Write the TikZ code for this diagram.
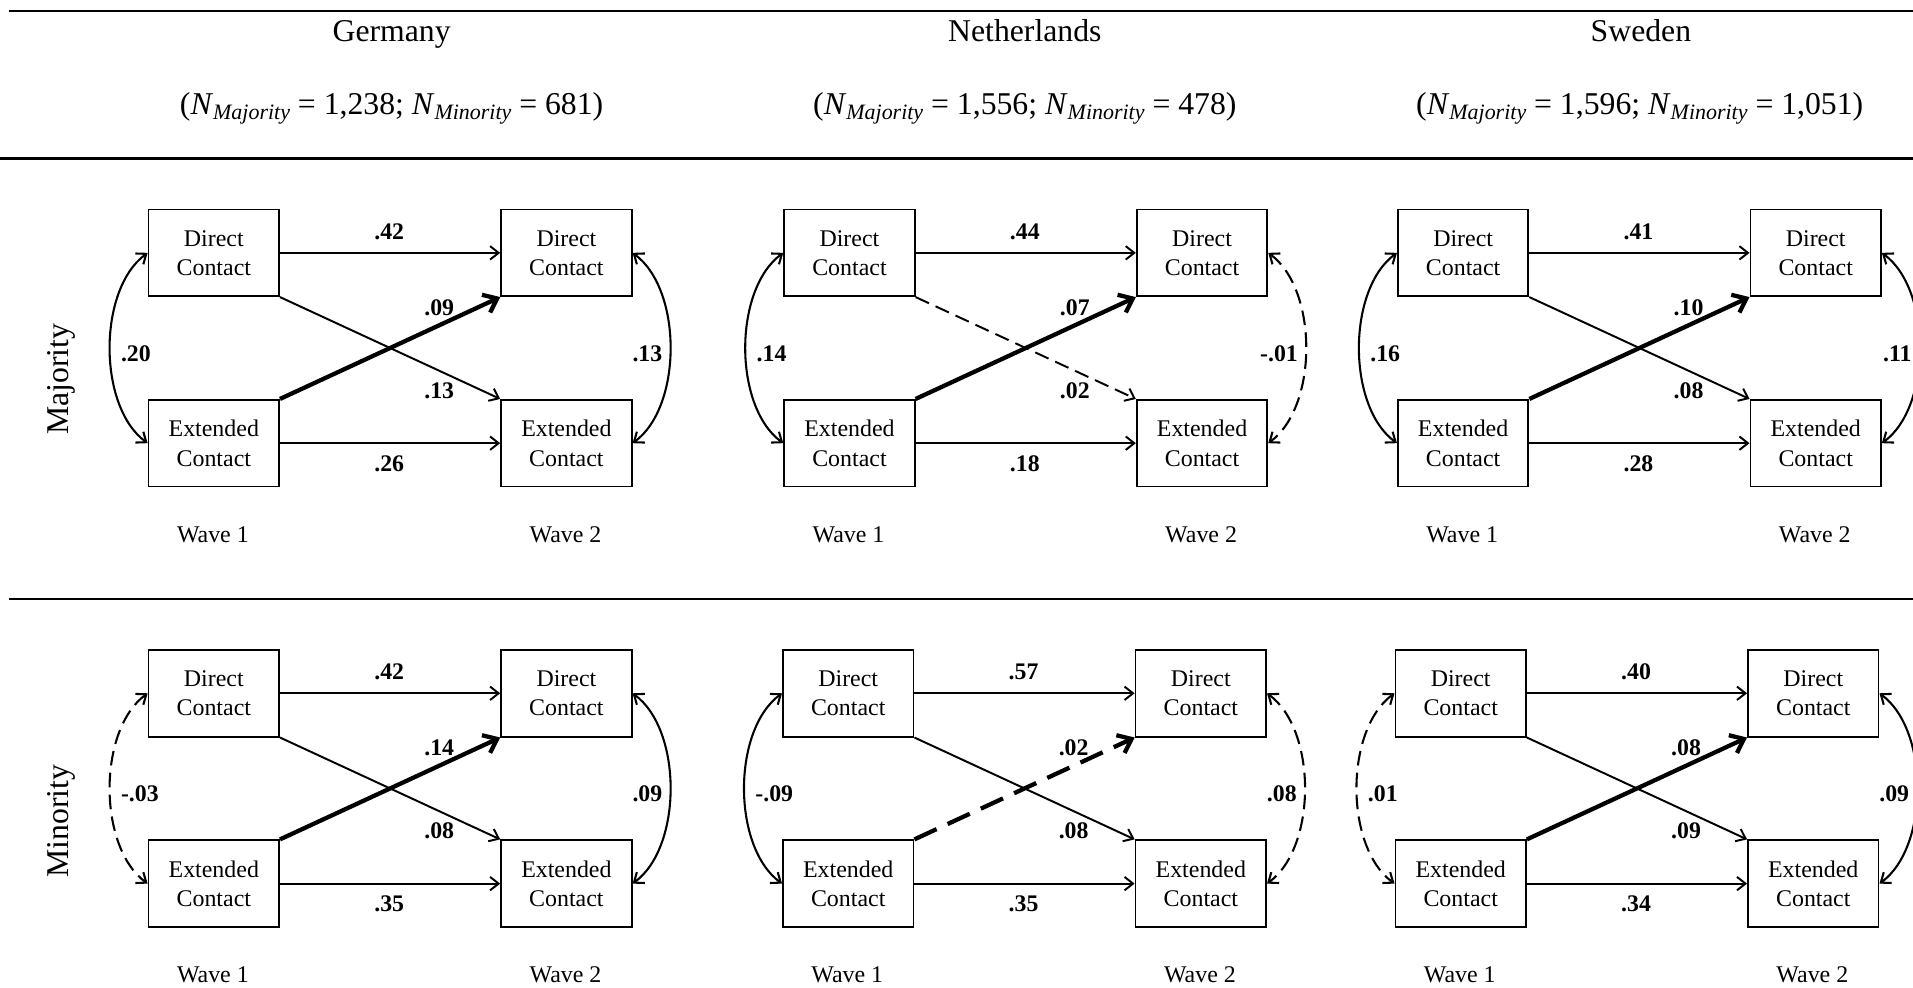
\documentclass[tikz,border=0pt]{standalone}
\usepackage{fontspec}
\setmainfont{Liberation Serif}
\usetikzlibrary{arrows.meta}
\newcommand\nsub[1]{\raisebox{-0.35ex}{\fontsize{18}{18}\selectfont\itshape #1}}
\tikzset{
  cbox/.style={draw, line width=1.5pt, minimum width=107pt, minimum height=71pt, inner sep=0pt, align=center, font=\fontsize{19.6}{24}\selectfont, anchor=north west},
  lab/.style={font=\fontsize{19.5}{22}\selectfont\bfseries, inner sep=0pt},
  wavelab/.style={font=\fontsize{19.6}{24}\selectfont, inner sep=0pt},
  ttl/.style={font=\fontsize{26}{30}\selectfont, inner sep=0pt},
  thinarr/.style={line width=1.6pt, -{Straight Barb[length=7pt,width=11pt]}},
  thickarr/.style={line width=3.5pt, -{Straight Barb[length=10pt,width=16pt]}},
  dblarr/.style={line width=1.7pt, {Straight Barb[length=7pt,width=11pt]}-{Straight Barb[length=7pt,width=11pt]}},
  dsh/.style={dash pattern=on 12pt off 6pt},
  dshlong/.style={dash pattern=on 20pt off 10pt},
  rulel/.style={line width=2pt},
  crossthin/.style={}, crossthick/.style={}, curveL/.style={}, curveR/.style={}
}
\newcommand\panel[9]{%
  \node[cbox] (#1d1) at (#2,#3) {Direct\\Contact};
  \node[cbox] (#1e1) at (#2,#3+156) {Extended\\Contact};
  \node[cbox] (#1d2) at (#2+289,#3) {Direct\\Contact};
  \node[cbox] (#1e2) at (#2+289,#3+156) {Extended\\Contact};
  \draw[thinarr] (#1d1.east) -- (#1d2.west);
  \draw[thinarr] (#1e1.east) -- (#1e2.west);
  \draw[thinarr, crossthin] (#1d1.south east) -- (#1e2.north west);
  \draw[thickarr, crossthick] (#1e1.north east) -- (#1d2.south west);
  \draw[dblarr, curveL] (#1d1.west) .. controls +(-41,30) and +(-41,-30) .. (#1e1.west);
  \draw[dblarr, curveR] (#1d2.east) .. controls +(41,30) and +(41,-30) .. (#1e2.east);
  \node[lab] (#1la) at (#2+198,#3+19) {#4};
  \node[lab] (#1lb) at (#2+198,#3+209) {#5};
  \node[lab] (#1lc) at (#2+239,#3+81) {#6};
  \node[lab] (#1ld) at (#2+239,#3+149) {#7};
  \node[lab, anchor=west] (#1le) at (#2-22,#3+119) {#8};
  \node[lab, anchor=east] (#1lf) at (#2+422,#3+119) {#9};
  \node[wavelab] (#1w1) at (#2+53.5,#3+267) {Wave 1};
  \node[wavelab] (#1w2) at (#2+342.5,#3+267) {Wave 2};
}
\begin{document}
\begin{tikzpicture}[x=1pt,y=-1pt]
\useasboundingbox (0,0) rectangle (1568,809);
\clip (0,0) rectangle (1568,809);
% rules
\coordinate (r1a) at (7,9);   \coordinate (r1b) at (1568,9);
\coordinate (r2a) at (0,130); \coordinate (r2b) at (1568,130);
\coordinate (r3a) at (7,491); \coordinate (r3b) at (1568,491);
\draw[rulel] (r1a) -- (r1b);
\draw[rulel] (r2a) -- (r2b);
\draw[rulel] (r3a) -- (r3b);
% titles
\node[ttl, anchor=base] (tg) at (321,34) {Germany};
\node[ttl, anchor=base] (tn) at (840,34) {Netherlands};
\node[ttl, anchor=base] (ts) at (1345,34) {Sweden};
\node[ttl, anchor=base] (ng) at (321,94) {(\textit{N}\nsub{Majority} = 1,238; \textit{N}\nsub{Minority} = 681)};
\node[ttl, anchor=base] (nn) at (840,94) {(\textit{N}\nsub{Majority} = 1,556; \textit{N}\nsub{Minority} = 478)};
\node[ttl, anchor=base] (ns) at (1344,94) {(\textit{N}\nsub{Majority} = 1,596; \textit{N}\nsub{Minority} = 1,051)};
% row labels
\node[ttl, rotate=90] (rmaj) at (50,311) {Majority};
\node[ttl, rotate=90] (rmin) at (50,673) {Minority};
% majority
\panel{gm}{121}{171}{.42}{.26}{.09}{.13}{.20}{.13}
\tikzset{crossthin/.style={dsh}, curveR/.style={dsh}}
\panel{nm}{642}{171}{.44}{.18}{.07}{.02}{.14}{-.01}
\tikzset{crossthin/.style={}, curveR/.style={}}
\panel{sm}{1145}{171}{.41}{.28}{.10}{.08}{.16}{.11}
% minority
\tikzset{curveL/.style={dsh}}
\panel{gn}{121}{532}{.42}{.35}{.14}{.08}{-.03}{.09}
\tikzset{curveL/.style={}, crossthick/.style={dshlong}, curveR/.style={dsh}}
\panel{nn}{641}{532}{.57}{.35}{.02}{.08}{-.09}{.08}
\tikzset{crossthick/.style={}, curveR/.style={}, curveL/.style={dsh}}
\panel{sn}{1143}{532}{.40}{.34}{.08}{.09}{.01}{.09}
\end{tikzpicture}
\end{document}
